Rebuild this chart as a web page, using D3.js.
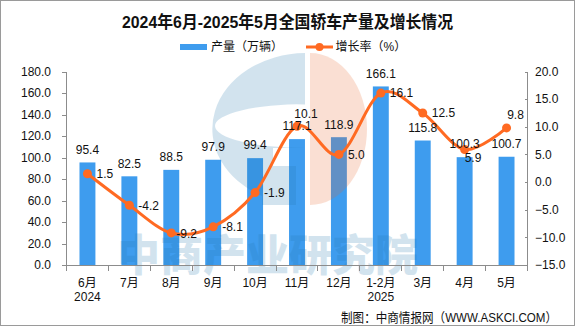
<!DOCTYPE html>
<html>
<head>
<meta charset="utf-8">
<script src="https://cdn.jsdelivr.net/npm/d3@7"></script>
<style>
  html, body { margin: 0; padding: 0; background: #fff; }
  svg { display: block; }
  text { font-family: "Liberation Sans", "Noto Sans CJK SC", sans-serif; fill: #111; }
</style>
</head>
<body>
<svg id="chart" width="575" height="326"></svg>
<script>
// 2024年6月-2025年5月 轿车产量（万辆）与同比增长率（%）
const categories = ["6月", "7月", "8月", "9月", "10月", "11月", "12月", "1-2月", "3月", "4月", "5月"];
const yearLabels = ["2024", "", "", "", "", "", "", "2025", "", "", ""];
const production = [95.4, 82.5, 88.5, 97.9, 99.4, 117.1, 118.9, 166.1, 115.8, 100.3, 100.7];
const growth = [1.5, -4.2, -9.2, -8.1, -1.9, 10.1, 5.0, 16.1, 12.5, 5.9, 9.8];
const leftTicks = [0, 20, 40, 60, 80, 100, 120, 140, 160, 180];
const rightTicks = [-15, -10, -5, 0, 5, 10, 15, 20];

const BLUE = "#3e9cee";
const ORANGE = "#ff6a22";
const AXIS = "#8c8c8c";

const svg = d3.select("#chart");
svg.append("rect").attr("width", 575).attr("height", 326).attr("fill", "#fff");

const plot = { left: 66.5, right: 527.5, top: 71.5, bottom: 265 };

const x = d3.scaleBand().domain(categories)
  .range([plot.left, plot.right]).paddingInner(0.62).paddingOuter(0.31);
const yL = d3.scaleLinear().domain([0, 180]).range([plot.bottom, plot.top]);
const yR = d3.scaleLinear().domain([-15, 20]).range([plot.bottom, plot.top]);
const cx = c => x(c) + x.bandwidth() / 2;

// title
svg.append("text")
  .attr("x", 287.5).attr("y", 22.5).attr("dy", "0.36em")
  .attr("text-anchor", "middle")
  .attr("font-size", 16.5).attr("font-weight", "bold")
  .attr("textLength", 331).attr("lengthAdjust", "spacingAndGlyphs")
  .text("2024年6月-2025年5月全国轿车产量及增长情况");

// legend
const lg = svg.append("g");
lg.append("rect").attr("x", 180).attr("y", 44).attr("width", 27).attr("height", 6).attr("fill", BLUE);
lg.append("text").attr("x", 211).attr("y", 47).attr("dy", "0.36em").attr("font-size", 12).text("产量（万辆）");
lg.append("line").attr("x1", 306).attr("x2", 333).attr("y1", 47).attr("y2", 47)
  .attr("stroke", ORANGE).attr("stroke-width", 3);
lg.append("circle").attr("cx", 319.5).attr("cy", 47).attr("r", 4).attr("fill", ORANGE);
lg.append("text").attr("x", 335.5).attr("y", 47).attr("dy", "0.36em").attr("font-size", 12).text("增长率（%）");

// bars
svg.append("g").selectAll("rect").data(production).join("rect")
  .attr("x", (d, i) => x(categories[i]))
  .attr("width", x.bandwidth())
  .attr("y", d => yL(d))
  .attr("height", d => yL(0) - yL(d))
  .attr("fill", BLUE);

// translucent logo watermark laid over the bars
const wm = svg.append("g").attr("opacity", 0.2);
const blueShape =
  "M305,53 A94,76 0 0 0 305,205 L296,205 L296,205 Z";
wm.append("path")
  .attr("fill-rule", "evenodd")
  .attr("fill", "#2378af")
  .attr("d",
    // outer left half-ellipse
    "M305,53 A94,76 0 0 0 262,196 L262,205 L296,205 L296,166 L273,166 L273,148 L305,148 L305,104" +
    // inner opening
    " A90,22 0 0 0 215,126 A90,22 0 0 0 305,148 L305,104 Z" +
    "");
wm.append("path")
  .attr("fill", "#eb6428")
  .attr("d", "M310,53 A57,76 0 0 1 310,205 Z");
wm.append("text")
  .attr("x", 117).attr("y", 271)
  .attr("font-size", 43).attr("font-weight", 900)
  .attr("font-family", "Noto Sans CJK SC")
  .attr("textLength", 301).attr("lengthAdjust", "spacingAndGlyphs")
  .style("fill", "#2378af")
  .text("中商产业研究院");

// axes
const ax = svg.append("g").attr("stroke", AXIS).attr("stroke-width", 1).attr("shape-rendering", "crispEdges");
ax.append("line").attr("x1", plot.left).attr("x2", plot.left).attr("y1", plot.top).attr("y2", plot.bottom);
ax.append("line").attr("x1", plot.right).attr("x2", plot.right).attr("y1", plot.top).attr("y2", plot.bottom);
ax.append("line").attr("x1", plot.left - 3).attr("x2", plot.right).attr("y1", plot.bottom).attr("y2", plot.bottom);

ax.selectAll(".tl").data(leftTicks).join("line")
  .attr("x1", plot.left - 5).attr("x2", plot.left)
  .attr("y1", d => Math.round(yL(d)) + 0.5).attr("y2", d => Math.round(yL(d)) + 0.5);
ax.selectAll(".tr").data(rightTicks).join("line")
  .attr("x1", plot.right - 3).attr("x2", plot.right)
  .attr("y1", d => Math.round(yR(d)) + 0.5).attr("y2", d => Math.round(yR(d)) + 0.5);

const step = x.step();
const bounds = categories.map(c => cx(c) - step / 2).concat([cx(categories[categories.length - 1]) + step / 2]);
ax.selectAll(".tx").data(bounds).join("line")
  .attr("x1", d => d).attr("x2", d => d)
  .attr("y1", plot.bottom).attr("y2", plot.bottom + 6);

svg.append("g").selectAll("text").data(leftTicks).join("text")
  .attr("x", 51).attr("y", d => yL(d)).attr("dy", "0.36em")
  .attr("text-anchor", "end").attr("font-size", 12)
  .text(d => d.toFixed(1));
svg.append("g").selectAll("text").data(rightTicks).join("text")
  .attr("x", 535).attr("y", d => yR(d)).attr("dy", "0.36em")
  .attr("font-size", 12)
  .text(d => (d < 0 ? "\u2212" + Math.abs(d).toFixed(1) : d.toFixed(1)));

svg.append("g").selectAll("text").data(categories).join("text")
  .attr("x", d => cx(d)).attr("y", 282.5).attr("dy", "0.36em")
  .attr("text-anchor", "middle").attr("font-size", 12)
  .text(d => d);
svg.append("g").selectAll("text").data(yearLabels).join("text")
  .attr("x", (d, i) => cx(categories[i])).attr("y", 296.7).attr("dy", "0.36em")
  .attr("text-anchor", "middle").attr("font-size", 12)
  .text(d => d);

// growth line
const pts = growth.map((g, i) => [cx(categories[i]), yR(g)]);
svg.append("path")
  .attr("d", d3.line().curve(d3.curveCardinal.tension(0))(pts))
  .attr("fill", "none").attr("stroke", ORANGE).attr("stroke-width", 3)
  .attr("stroke-linejoin", "round");
svg.append("g").selectAll("circle").data(pts).join("circle")
  .attr("cx", d => d[0]).attr("cy", d => d[1]).attr("r", 4.5).attr("fill", ORANGE);

// bar value labels
svg.append("g").selectAll("text").data(production).join("text")
  .attr("x", (d, i) => cx(categories[i]))
  .attr("y", d => yL(d) - 13).attr("dy", "0.36em")
  .attr("text-anchor", "middle").attr("font-size", 12)
  .text(d => d.toFixed(1));

// growth labels: right of the point unless noted
const labelSide = { 2: "rightLow", 5: "above", 9: "belowRight", 10: "above" };
svg.append("g").selectAll("text").data(growth).join("text")
  .each(function (d, i) {
    const [px, py] = pts[i];
    const side = labelSide[i] || "right";
    const t = d3.select(this).attr("font-size", 12).attr("dy", "0.36em");
    if (side === "above") {
      t.attr("x", px + 9).attr("y", py - 13).attr("text-anchor", "middle");
    } else if (side === "belowRight") {
      t.attr("x", px).attr("y", py + 8);
    } else if (side === "rightLow") {
      t.attr("x", px + 5).attr("y", py + 1);
    } else {
      t.attr("x", px + 9).attr("y", py);
    }
  })
  .text(d => d.toFixed(1));

// source note
svg.append("text")
  .attr("x", 557).attr("y", 317.6).attr("dy", "0.36em")
  .attr("text-anchor", "end").attr("font-size", 13)
  .attr("textLength", 216).attr("lengthAdjust", "spacingAndGlyphs")
  .text("制图：中商情报网（WWW.ASKCI.COM）");

// frame
svg.append("rect").attr("x", 0.5).attr("y", 0.5).attr("width", 574).attr("height", 325)
  .attr("fill", "none").attr("stroke", "#9a9a9a");
</script>
</body>
</html>
